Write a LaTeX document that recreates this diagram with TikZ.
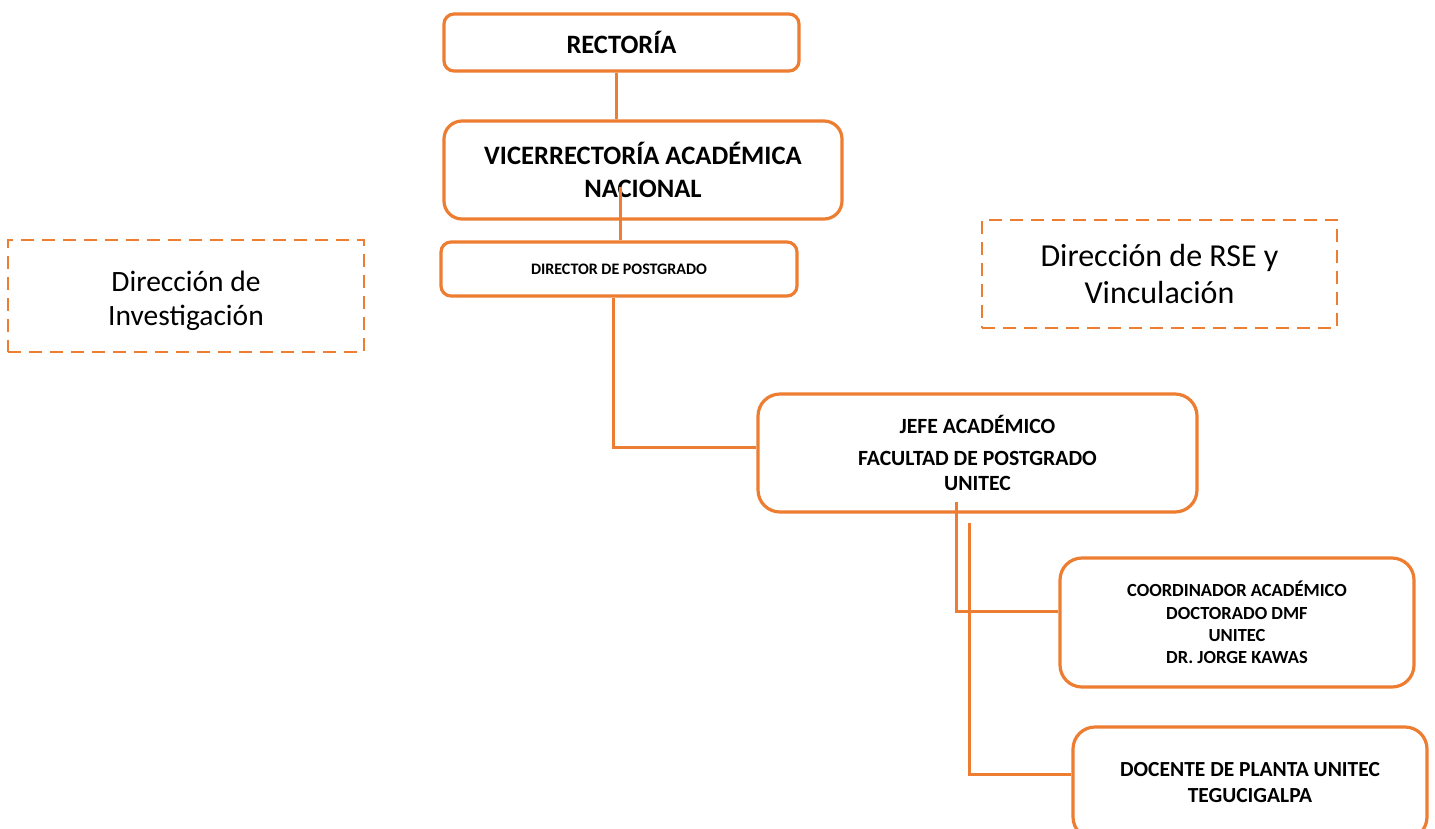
\documentclass[tikz,border=0pt]{standalone}
\usepackage{fontspec}
\setmainfont{Carlito}
\definecolor{org}{HTML}{ED7D31}
\begin{document}
\begin{tikzpicture}[x=1pt,y=-1pt,
  box/.style={draw=org,line width=3.2pt,rounded corners=#1,align=center,inner sep=0pt,text=black},
  box/.default=10pt,
  dbox/.style={draw=org,line width=2.8pt,dash pattern=on 13pt off 8pt,inner sep=0pt},
  txt/.style={align=center,inner sep=0pt,text=black},
  conn/.style={draw=org,line width=3pt}]
\clip (0,0) rectangle (1435,828);
\useasboundingbox (0,0) rectangle (1435,828);
\fill[white] (0,0) rectangle (1435,828);

\node[box=10pt,minimum width=355pt,minimum height=57pt,font=\fontsize{26.5}{28}\selectfont\bfseries] (rect) at (621.5,42.5) {RECTORÍA};
\node[box=18pt,minimum width=398pt,minimum height=98pt,font=\fontsize{26.6}{33}\selectfont\bfseries] (vice) at (643,170) {VICERRECTORÍA ACADÉMICA\\NACIONAL};
\node[box=10pt,minimum width=356pt,minimum height=54pt,font=\fontsize{16}{16}\selectfont\bfseries] (dir) at (619,269) {DIRECTOR DE POSTGRADO};
\node[box=22pt,minimum width=439pt,minimum height=118pt,font=\fontsize{21.7}{25}\selectfont\bfseries] (jefe) at (977.5,453) {JEFE ACADÉMICO\\[7pt]FACULTAD DE POSTGRADO\\UNITEC};
\node[box=22pt,minimum width=354pt,minimum height=129pt,font=\fontsize{18.5}{22.3}\selectfont\bfseries] (coord) at (1237,622.5) {COORDINADOR ACADÉMICO\\DOCTORADO DMF\\UNITEC\\DR. JORGE KAWAS};
\node[box=22pt,minimum width=354pt,minimum height=112pt,font=\fontsize{21.5}{26}\selectfont\bfseries] (doc) at (1250,783) {DOCENTE DE PLANTA UNITEC\\TEGUCIGALPA};

\node[dbox,minimum width=356pt,minimum height=112pt] (inv) at (186,296) {};
\node[txt,font=\fontsize{29.5}{34}\selectfont] (invt) at ([yshift=-5pt]inv.center) {Dirección de\\Investigación};
\node[dbox,minimum width=355pt,minimum height=108pt] (rse) at (1159.5,274) {};
\node[txt,font=\fontsize{32}{37}\selectfont] (rset) at (rse.center) {Dirección de RSE y\\Vinculación};

\coordinate (vin) at (620,187);
\coordinate (j1) at (956,502);
\coordinate (j2) at (969,523);

\draw[conn] ([xshift=-5.5pt]rect.south) -- ([xshift=-5.5pt]rect.south |- vice.north);
\draw[conn] (vin) -- (vin |- dir.north);
\draw[conn] ([xshift=-6pt]dir.south) |- ([yshift=6pt]jefe.west);
\draw[conn] (j1) |- ([yshift=11.5pt]coord.west);
\draw[conn] (j2) |- ([yshift=9pt]doc.west);
\end{tikzpicture}
\end{document}
